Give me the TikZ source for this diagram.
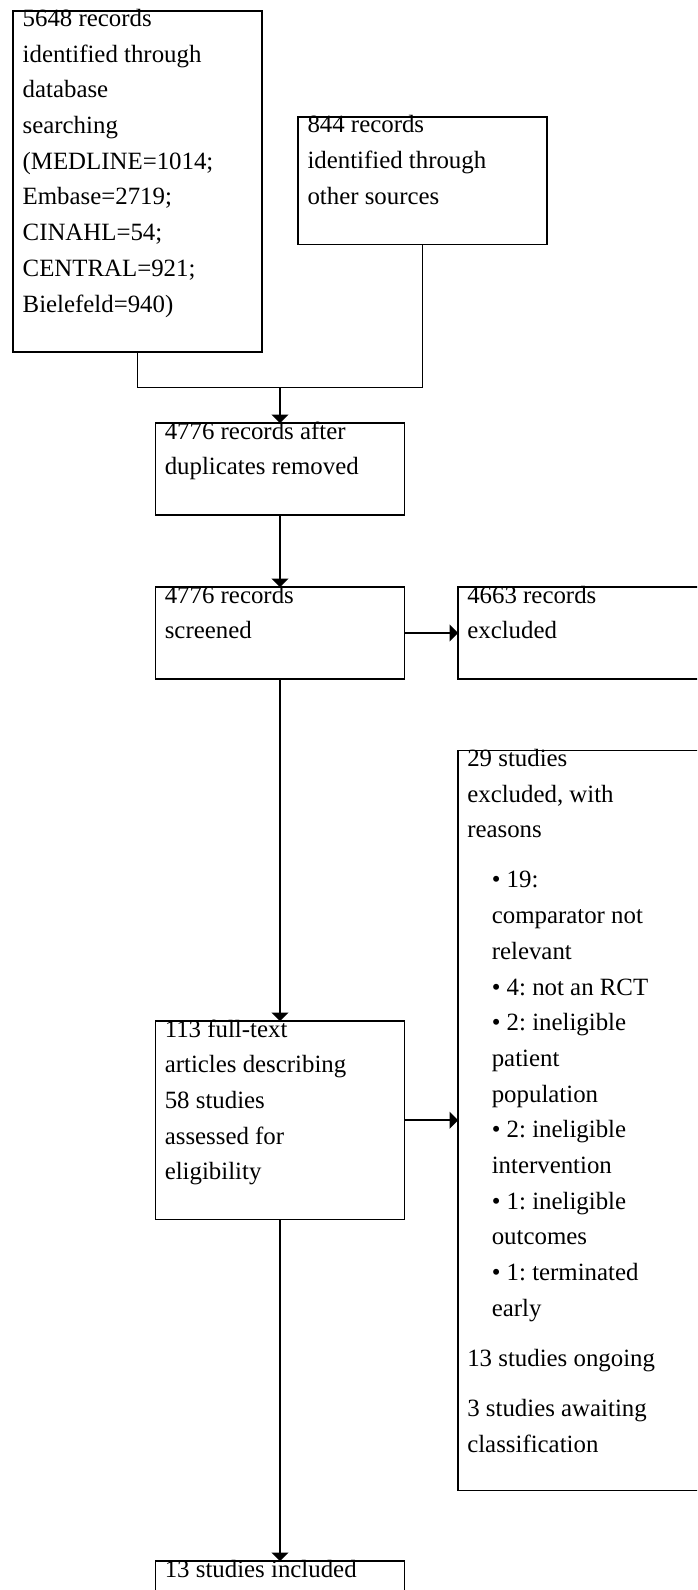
\documentclass[tikz,border=0pt]{standalone}
\usepackage{fontspec}
\setmainfont{Liberation Serif}
\usetikzlibrary{arrows.meta,calc}
\frenchspacing
\begin{document}
\begin{tikzpicture}[x=1pt,y=-1pt,
  box/.style={draw=black, line width=1.9pt, inner sep=0pt, outer sep=0pt, anchor=north west},
  lbl/.style={anchor=base west, inner sep=0pt, outer sep=0pt, font=\fontsize{24.85}{35.7}\selectfont\frenchspacing},
  conn/.style={line width=1.9pt},
  arr/.style={conn, -{Triangle[width=17pt,length=8.5pt]}}]
\clip (0,0) rectangle (697,1590);
\fill[white] (0,0) rectangle (697,1590);
% boxes
\node[box, minimum width=249pt, minimum height=341pt] (b1) at (13,11) {};
\node[box, minimum width=249pt, minimum height=127.5pt] (b2) at (298,117) {};
\node[box, minimum width=249pt, minimum height=92pt] (b3) at (155.5,423) {};
\node[box, minimum width=249pt, minimum height=92pt] (b4) at (155.5,587) {};
\node[box, minimum width=262pt, minimum height=92pt] (b5) at (458,587) {};
\node[box, minimum width=262pt, minimum height=740pt] (b6) at (458,750.5) {};
\node[box, minimum width=249pt, minimum height=198.5pt] (b7) at (155.5,1021) {};
\node[box, minimum width=249pt, minimum height=80pt] (b8) at (155.5,1561) {};
% texts
\node[lbl] (t1) at ($(b1.north west)+(9.7,15.5)$) {\parbox[t]{240pt}{5648 records\\identified through\\database\\searching\\(MEDLINE=1014;\\Embase=2719;\\CINAHL=54;\\CENTRAL=921;\\Bielefeld=940)}};
\node[lbl] (t2) at ($(b2.north west)+(9.5,15.8)$) {\parbox[t]{240pt}{844 records\\identified through\\other sources}};
\node[lbl] (t3) at ($(b3.north west)+(9.3,16)$) {\parbox[t]{240pt}{4776 records after\\duplicates removed}};
\node[lbl] (t4) at ($(b4.north west)+(9.3,16)$) {\parbox[t]{240pt}{4776 records\\screened}};
\node[lbl] (t5) at ($(b5.north west)+(9.3,16)$) {\parbox[t]{240pt}{4663 records\\excluded}};
\node[lbl] (t6) at ($(b6.north west)+(9.3,16)$) {\parbox[t]{240pt}{29 studies\\excluded, with\\reasons\\[14.3pt]
\hspace*{24.5pt}• 19:\\
\hspace*{24.5pt}comparator not\\
\hspace*{24.5pt}relevant\\
\hspace*{24.5pt}• 4: not an RCT\\
\hspace*{24.5pt}• 2: ineligible\\
\hspace*{24.5pt}patient\\
\hspace*{24.5pt}population\\
\hspace*{24.5pt}• 2: ineligible\\
\hspace*{24.5pt}intervention\\
\hspace*{24.5pt}• 1: ineligible\\
\hspace*{24.5pt}outcomes\\
\hspace*{24.5pt}• 1: terminated\\
\hspace*{24.5pt}early\\[14.3pt]
13 studies ongoing\\[14.3pt]
3 studies awaiting\\classification}};
\node[lbl] (t7) at ($(b7.north west)+(9.3,16)$) {\parbox[t]{240pt}{113 full-text\\articles describing\\58 studies\\assessed for\\eligibility}};
\node[lbl] (t8) at ($(b8.north west)+(9.3,16.5)$) {\parbox[t]{240pt}{13 studies included}};
% connectors
\coordinate (j) at (280,387.5);
\draw[conn] (b1.south) -- (b1.south |- j) -| (b2.south);
\draw[arr] (j) -- (b3.north);
\draw[arr] (b3.south) -- (b4.north);
\draw[arr] (b4.east) -- (b5.west);
\draw[arr] (b4.south) -- (b7.north);
\draw[arr] (b7.east) -- (b7.east -| b6.west);
\draw[arr] (b7.south) -- (b8.north);
\end{tikzpicture}
\end{document}
